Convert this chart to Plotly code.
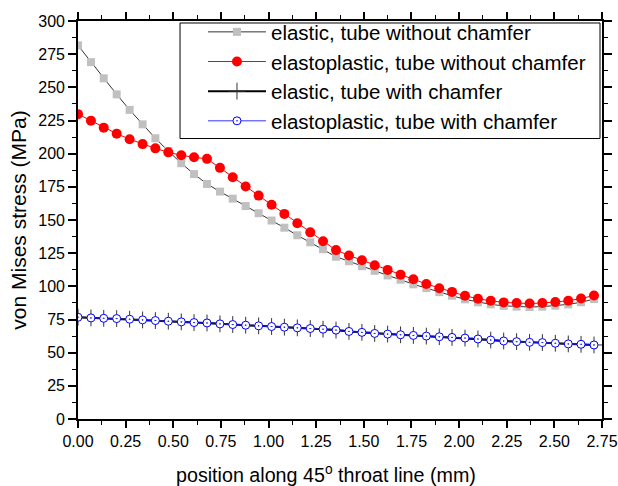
import plotly.graph_objects as go

position_mm = [0.000, 0.068, 0.135, 0.203, 0.271, 0.339, 0.406, 0.474, 0.542, 0.609,
               0.677, 0.745, 0.812, 0.880, 0.948, 1.016, 1.083, 1.151, 1.219, 1.286,
               1.354, 1.422, 1.490, 1.557, 1.625, 1.693, 1.760, 1.828, 1.896, 1.963,
               2.031, 2.099, 2.166, 2.234, 2.302, 2.370, 2.437, 2.505, 2.573, 2.640, 2.708]

elastic_no_chamfer = [281.6, 269.0, 256.8, 244.7, 233.0, 222.1, 211.6, 202.0, 192.8, 184.6,
                      177.2, 171.4, 166.1, 160.5, 155.1, 149.6, 144.2, 138.5, 133.2, 128.0,
                      122.3, 118.9, 115.2, 111.7, 108.2, 105.0, 101.5, 98.7, 95.6, 92.9,
                      90.2, 88.0, 86.4, 85.3, 84.7, 84.4, 84.7, 85.4, 86.4, 88.0, 90.4]

elastoplastic_no_chamfer = [229.8, 224.8, 219.6, 215.1, 210.9, 207.2, 204.0, 201.0, 198.8, 197.3,
                            196.1, 189.3, 182.2, 175.3, 168.4, 161.5, 154.6, 147.6, 140.7, 134.0,
                            127.3, 123.3, 119.6, 115.9, 112.4, 108.8, 105.3, 101.8, 98.5, 95.8,
                            92.9, 90.6, 89.1, 87.9, 87.4, 87.1, 87.4, 88.1, 89.1, 90.8, 93.1]

elastic_chamfer = [76.7, 76.2, 75.9, 75.7, 75.2, 74.7, 74.2, 73.7, 73.2, 72.7,
                   72.4, 71.7, 71.2, 70.7, 70.2, 69.7, 69.2, 68.7, 68.2, 67.7,
                   67.0, 66.0, 65.3, 64.5, 64.0, 63.5, 63.0, 62.5, 62.0, 61.5,
                   61.0, 60.3, 59.5, 58.8, 58.3, 57.8, 57.6, 57.1, 56.6, 56.3, 55.8]

elastoplastic_chamfer = [76.7, 76.2, 75.9, 75.7, 75.2, 74.7, 74.2, 73.7, 73.2, 72.7,
                         72.4, 71.7, 71.2, 70.7, 70.2, 69.7, 69.2, 68.7, 68.2, 67.7,
                         67.0, 66.0, 65.3, 64.5, 64.0, 63.5, 63.0, 62.5, 62.0, 61.5,
                         61.0, 60.3, 59.5, 58.8, 58.3, 57.8, 57.6, 57.1, 56.6, 56.3, 55.8]

x_ticks = [0.00, 0.25, 0.50, 0.75, 1.00, 1.25, 1.50, 1.75, 2.00, 2.25, 2.50, 2.75]
y_ticks = [0, 25, 50, 75, 100, 125, 150, 175, 200, 225, 250, 275, 300]

FONT = "Liberation Sans, Arial, sans-serif"

fig = go.Figure()
fig.add_trace(go.Scatter(
    x=position_mm, y=elastic_no_chamfer, name="elastic, tube without chamfer",
    mode="lines+markers",
    line=dict(color="#333333", width=1),
    marker=dict(symbol="square", size=8, color="#c0c0c0", line=dict(width=0))))
fig.add_trace(go.Scatter(
    x=position_mm, y=elastoplastic_no_chamfer, name="elastoplastic, tube without chamfer",
    mode="lines+markers",
    line=dict(color="#ff0000", width=1),
    marker=dict(symbol="circle", size=10, color="#ff0000", line=dict(width=0))))
fig.add_trace(go.Scatter(
    x=position_mm, y=elastic_chamfer, name="elastic, tube with chamfer",
    mode="lines+markers",
    line=dict(color="#000000", width=2),
    marker=dict(symbol="cross-thin", size=12, color="#000000",
                line=dict(width=1, color="#333333"))))
fig.add_trace(go.Scatter(
    x=position_mm, y=elastoplastic_chamfer, name="elastoplastic, tube with chamfer",
    mode="lines+markers",
    line=dict(color="#0000ff", width=0.8),
    marker=dict(symbol="circle-dot", size=8, color="#ffffff",
                line=dict(width=1, color="#0000ff"))))

# legend frame
fig.add_shape(type="rect", xref="paper", yref="paper",
              x0=0.1947, x1=0.9962, y0=0.7047, y1=0.995,
              line=dict(color="#000000", width=1), fillcolor="white", layer="below")

fig.add_annotation(
    text="position along 45<sup>o</sup> throat line (mm)",
    xref="paper", yref="paper", x=0.4733, y=-0.139,
    xanchor="center", yanchor="middle", showarrow=False,
    font=dict(family=FONT, size=19.7, color="#000000"))

fig.update_layout(
    width=618, height=486,
    margin=dict(l=78, r=16, t=16, b=67),
    paper_bgcolor="white", plot_bgcolor="white",
    font=dict(family=FONT, color="#000000"),
    showlegend=True,
    legend=dict(
        x=0.2385, y=1.0225, xanchor="left", yanchor="top",
        borderwidth=0, bgcolor="rgba(0,0,0,0)",
        font=dict(family=FONT, size=20.5, color="#000000"),
        itemwidth=58, tracegroupgap=0),
    xaxis=dict(
        range=[0, 2.75], tickvals=x_ticks, automargin=False,
        ticklabeloverflow="allow",
        ticktext=[f"{v:.2f}" for v in x_ticks],
        showline=True, linecolor="#000000", linewidth=1.6, mirror="ticks",
        ticks="outside", ticklen=7, tickwidth=1.6, tickcolor="#000000",
        minor=dict(dtick=0.125, ticks="outside", ticklen=4, tickwidth=1.3, tickcolor="#000000"),
        showgrid=False, zeroline=False,
        tickfont=dict(family=FONT, size=16, color="#000000")),
    yaxis=dict(
        range=[0, 300], tickvals=y_ticks, automargin=False,
        showline=True, linecolor="#000000", linewidth=1.6, mirror="ticks",
        ticks="outside", ticklen=8, tickwidth=1.6, tickcolor="#000000",
        minor=dict(dtick=12.5, ticks="outside", ticklen=4, tickwidth=1.3, tickcolor="#000000"),
        showgrid=False, zeroline=False,
        tickfont=dict(family=FONT, size=16, color="#000000"),
        title=dict(text="von Mises stress (MPa)", standoff=6,
                   font=dict(family=FONT, size=21, color="#000000"))),
)

fig.write_html("out.html")
